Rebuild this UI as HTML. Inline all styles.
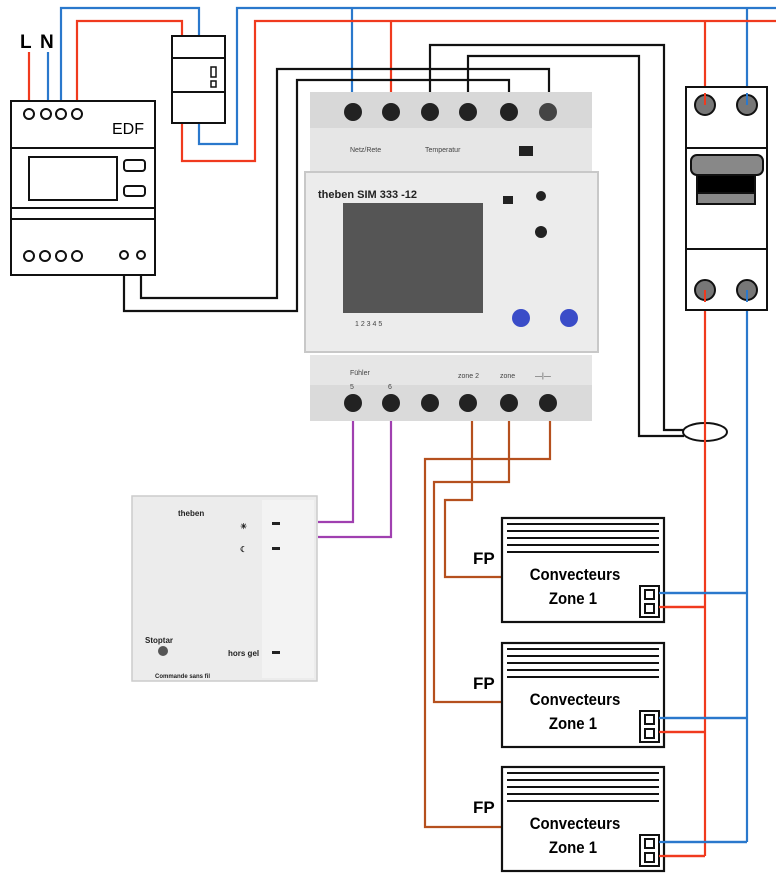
<!DOCTYPE html>
<html><head><meta charset="utf-8"><style>
html,body{margin:0;padding:0;background:#fff}
svg{display:block}
text{font-family:"Liberation Sans",sans-serif}
</style></head><body>
<svg width="776" height="875" viewBox="0 0 776 875" xmlns="http://www.w3.org/2000/svg">
<rect width="776" height="875" fill="#fff"/>
<text x="20" y="48" font-size="19" font-weight="bold">L</text>
<text x="40" y="48" font-size="19" font-weight="bold">N</text>
<ellipse cx="705" cy="432" rx="22" ry="9" fill="#fff" stroke="#111" stroke-width="2"/>
<g fill="none" stroke-width="2.2">
<path d="M48 52V113" stroke="#2a78cc"/>
<path d="M61 113V8H199V36" stroke="#2a78cc"/>
<path d="M199 123V144H237V8H776" stroke="#2a78cc"/>
<path d="M352 8V110" stroke="#2a78cc"/>
<path d="M747 8V105M747 290V842M664 593H747M664 718H747M664 842H747" stroke="#2a78cc"/>
<path d="M29 52V113" stroke="#f03a1e"/>
<path d="M77 113V21H182V36" stroke="#f03a1e"/>
<path d="M182 123V161H255V21H776" stroke="#f03a1e"/>
<path d="M391 21V110" stroke="#f03a1e"/>
<path d="M705 21V105M705 290V856M664 607H705M664 732H705M664 856H705" stroke="#f03a1e"/>
<path d="M141 255V298H277V69H549V110" stroke="#111"/>
<path d="M124 255V311H297V80H509V110" stroke="#111"/>
<path d="M430 110V45H664V430H684" stroke="#111"/>
<path d="M468 110V56H639V436H684" stroke="#111"/>
<path d="M550 403V459H425V827H502" stroke="#b5501e"/>
<path d="M509 403V482H434V702H502" stroke="#b5501e"/>
<path d="M472 403V500H445V577H502" stroke="#b5501e"/>
<path d="M353 403V522H318M391 403V537H318" stroke="#a040b0"/>
</g>

<g fill="#fff" stroke="#111" stroke-width="2">
<rect x="172" y="36" width="53" height="87"/>
<path d="M172 58H225M172 92H225"/>
<rect x="211" y="67" width="5" height="10" stroke-width="1.5"/>
<rect x="211" y="81" width="5" height="6" stroke-width="1.5"/>
</g>

<g fill="#fff" stroke="#111" stroke-width="2">
<rect x="11" y="101" width="144" height="174"/>
<path d="M11 148H155M11 208H155M11 219H155" fill="none"/>
<rect x="29" y="157" width="88" height="43"/>
<rect x="124" y="160" width="21" height="11" rx="3"/>
<rect x="124" y="186" width="21" height="10" rx="3"/>
<circle cx="29" cy="114" r="5"/><circle cx="46" cy="114" r="5"/><circle cx="61" cy="114" r="5"/><circle cx="77" cy="114" r="5"/>
<circle cx="29" cy="256" r="5"/><circle cx="45" cy="256" r="5"/><circle cx="61" cy="256" r="5"/><circle cx="77" cy="256" r="5"/>
<circle cx="124" cy="255" r="4"/><circle cx="141" cy="255" r="4"/>
</g>
<text x="112" y="134" font-size="16">EDF</text>

<rect x="310" y="92" width="282" height="82" fill="#e6e6e6"/>
<rect x="310" y="92" width="282" height="36" fill="#d8d8d8"/>
<rect x="305" y="172" width="293" height="180" fill="#ececec" stroke="#c8c8c8" stroke-width="2"/>
<rect x="310" y="355" width="282" height="66" fill="#e6e6e6"/>
<rect x="310" y="385" width="282" height="36" fill="#dadada"/>
<rect x="343" y="203" width="140" height="110" fill="#555"/>
<text x="318" y="198" font-size="11" font-weight="bold" fill="#222">theben SIM 333 -12</text>
<g fill="#222">
<circle cx="353" cy="112" r="9"/><circle cx="391" cy="112" r="9"/><circle cx="430" cy="112" r="9"/>
<circle cx="468" cy="112" r="9"/><circle cx="509" cy="112" r="9"/><circle cx="548" cy="112" r="9" fill="#444"/>
<circle cx="353" cy="403" r="9"/><circle cx="391" cy="403" r="9"/><circle cx="430" cy="403" r="9"/>
<circle cx="468" cy="403" r="9"/><circle cx="509" cy="403" r="9"/><circle cx="548" cy="403" r="9"/>
<circle cx="541" cy="196" r="5"/><circle cx="541" cy="232" r="6"/>
<rect x="519" y="146" width="14" height="10"/><rect x="503" y="196" width="10" height="8"/>
</g>
<circle cx="521" cy="318" r="9" fill="#3a4cc8"/><circle cx="569" cy="318" r="9" fill="#3a4cc8"/>
<g font-size="7" fill="#444">
<text x="350" y="152">Netz/Rete</text><text x="425" y="152">Temperatur</text>
<text x="350" y="375">Fühler</text><text x="350" y="389">5</text><text x="388" y="389">6</text>
<text x="458" y="378">zone 2</text><text x="500" y="378">zone</text><text x="535" y="378">—|—</text>
<text x="355" y="326">1  2  3  4  5</text>
</g>

<rect x="132" y="496" width="185" height="185" fill="#ececec" stroke="#ccc" stroke-width="1.5"/>
<rect x="262" y="500" width="52" height="178" fill="#f3f3f3"/>
<g fill="#222" font-size="8" font-weight="bold">
<text x="178" y="516">theben</text>
<text x="240" y="529">☀</text><text x="240" y="552">☾</text>
<text x="228" y="656">hors gel</text>
<text x="145" y="643">Stoptar</text>
<text x="155" y="678" font-size="6">Commande sans fil</text>
<rect x="272" y="522" width="8" height="3"/><rect x="272" y="547" width="8" height="3"/><rect x="272" y="651" width="8" height="3"/>
</g>
<circle cx="163" cy="651" r="5" fill="#555"/>

<g stroke="#111" stroke-width="2">
<rect x="686" y="87" width="81" height="223" fill="#fff"/>
<path d="M686 148H767M686 249H767"/>
<circle cx="705" cy="105" r="10" fill="#777"/><circle cx="747" cy="105" r="10" fill="#777"/>
<circle cx="705" cy="290" r="10" fill="#777"/><circle cx="747" cy="290" r="10" fill="#777"/>
<rect x="691" y="155" width="72" height="20" rx="6" fill="#888"/>
<rect x="697" y="175" width="58" height="18" fill="#000"/>
<rect x="697" y="193" width="58" height="11" fill="#888"/>
</g>
<path d="M705 93V105M705 290V302" stroke-width="2" stroke="#f03a1e"/>
<path d="M747 93V105M747 290V302" stroke-width="2" stroke="#2a78cc"/>

<g id="conv">
<rect x="502" y="518" width="162" height="104" fill="#fff" stroke="#111" stroke-width="2.2"/>
<g stroke="#111" stroke-width="2" fill="none">
<path d="M507 524H659M507 531H659M507 538H659M507 545H659M507 552H659"/>
<rect x="640" y="586" width="19" height="31"/>
<rect x="645" y="590" width="9" height="9"/>
<rect x="645" y="604" width="9" height="9"/>
</g>
<text x="575" y="580" font-size="17" text-anchor="middle" font-weight="bold" transform="translate(575 0) scale(0.88 1) translate(-575 0)">Convecteurs</text>
<text x="573" y="604" font-size="17" text-anchor="middle" font-weight="bold" transform="translate(573 0) scale(0.88 1) translate(-573 0)">Zone 1</text>
<text x="473" y="564" font-size="17" font-weight="bold">FP</text>
</g>
<use href="#conv" transform="translate(0 125)"/>
<use href="#conv" transform="translate(0 249)"/>
<g fill="none" stroke-width="2.2">
<path d="M659 593H747M659 718H747M659 842H747" stroke="#2a78cc"/>
<path d="M659 607H705M659 732H705M659 856H705" stroke="#f03a1e"/>
</g>
</svg>
</body></html>
